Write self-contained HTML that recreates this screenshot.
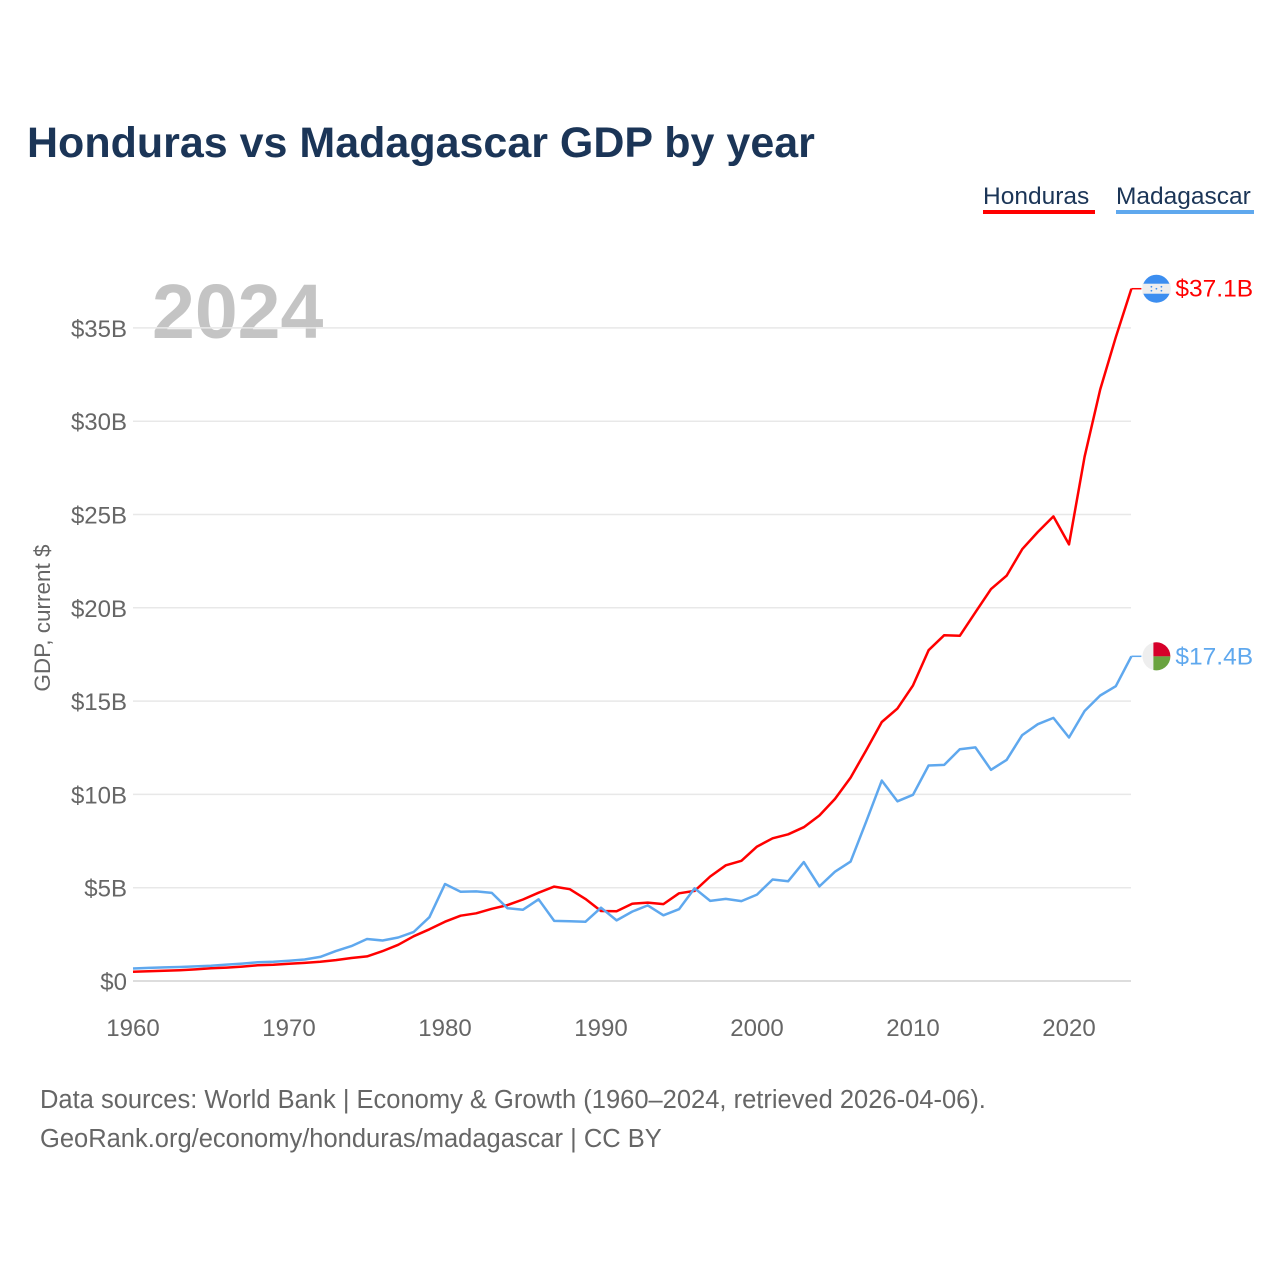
<!DOCTYPE html>
<html><head><meta charset="utf-8"><style>
body{margin:0;background:#fff;font-family:"Liberation Sans",sans-serif}
</style></head><body>
<svg width="1280" height="1280" xmlns="http://www.w3.org/2000/svg" font-family="Liberation Sans, sans-serif">
<rect width="1280" height="1280" fill="#fff"/>
<text x="27" y="157" font-size="43" font-weight="bold" fill="#1b3557">Honduras vs Madagascar GDP by year</text>
<g>
<text x="983" y="204" font-size="24.5" fill="#1b3557">Honduras</text>
<rect x="983" y="210" width="112" height="4" fill="#ff0000"/>
<text x="1116" y="204" font-size="24.5" fill="#1b3557">Madagascar</text>
<rect x="1116" y="210" width="138" height="4" fill="#5fa8ee"/>
</g>
<text x="152" y="338" font-size="77" font-weight="bold" fill="#c4c4c4">2024</text>
<text transform="translate(50,618) rotate(-90)" text-anchor="middle" font-size="22.5" fill="#666">GDP, current $</text>
<g id="grid"></g><g id="lines"></g>
<text x="40" y="1108" font-size="25.5" fill="#666">Data sources: World Bank | Economy &amp; Growth (1960–2024, retrieved 2026-04-06).</text>
<text x="40" y="1147" font-size="25.5" fill="#666">GeoRank.org/economy/honduras/madagascar | CC BY</text>
</svg>
<script>
const yTicks=[0,5,10,15,20,25,30,35];
const yTickLabels=["$0","$5B","$10B","$15B","$20B","$25B","$30B","$35B"];
const xTicks=[1960,1970,1980,1990,2000,2010,2020];
const startYear=1960;
const honduras=[0.5,0.52,0.55,0.58,0.62,0.68,0.72,0.77,0.84,0.87,0.92,0.97,1.03,1.12,1.23,1.32,1.6,1.94,2.4,2.77,3.18,3.5,3.63,3.87,4.07,4.37,4.73,5.06,4.92,4.4,3.75,3.74,4.14,4.2,4.12,4.7,4.83,5.6,6.2,6.44,7.2,7.65,7.86,8.24,8.87,9.76,10.9,12.37,13.88,14.6,15.84,17.73,18.53,18.5,19.76,21.0,21.72,23.14,24.06,24.9,23.4,28.1,31.7,34.5,37.1];
const madagascar=[0.67,0.7,0.73,0.75,0.78,0.82,0.88,0.93,1.0,1.03,1.08,1.15,1.29,1.6,1.87,2.25,2.17,2.33,2.63,3.42,5.2,4.78,4.8,4.72,3.9,3.82,4.38,3.22,3.2,3.17,3.93,3.25,3.72,4.05,3.52,3.85,4.97,4.29,4.4,4.28,4.63,5.44,5.35,6.37,5.07,5.86,6.4,8.54,10.74,9.63,9.98,11.55,11.58,12.42,12.52,11.32,11.85,13.18,13.76,14.1,13.05,14.47,15.3,15.8,17.4];
const NS="http://www.w3.org/2000/svg";
const X=y=>133+(y-1960)*15.6;
const Y=v=>981-v*18.66;
const grid=document.getElementById('grid'),lines=document.getElementById('lines');
function mk(t,a,p){const e=document.createElementNS(NS,t);for(const k in a)e.setAttribute(k,a[k]);p.appendChild(e);return e;}
yTicks.forEach((v,i)=>{
 const l=mk('line',{x1:133,x2:1131,y1:Y(v),y2:Y(v),stroke:v===0?'#ddd':'#e8e8e8','stroke-width':v===0?2:1.5},grid);
 
 
 const t=mk('text',{x:127,y:Y(v)+9,'text-anchor':'end','font-size':24,fill:'#666'},grid);
 t.textContent=yTickLabels[i];
 
 
});
xTicks.forEach(y=>{
 const t=mk('text',{x:X(y),y:1036,'text-anchor':'middle','font-size':24,fill:'#666'},grid);
 t.textContent=y;
 
 
});
function series(d,c,name){
 const pts=d.map((v,i)=>X(startYear+i).toFixed(1)+','+Y(v).toFixed(1)).join(' ');
 const p=mk('polyline',{points:pts,fill:'none',stroke:c,'stroke-width':2.5,'stroke-linejoin':'round'},lines);
 
 
 const lx=X(startYear+d.length-1),ly=Y(d[d.length-1]);
 mk('line',{x1:lx,x2:lx+10,y1:ly,y2:ly,stroke:c,'stroke-width':1.5},lines);
 const t=mk('text',{x:lx+44,y:ly+8,'font-size':24.5,fill:c},lines);
 t.textContent='$'+d[d.length-1].toFixed(1)+'B';
 
 
 return [lx+25,ly];
}
const h=series(honduras,'#ff0000','honduras');
const m=series(madagascar,'#5fa8ee','madagascar');
const fh=document.createElementNS(NS,'g');


lines.appendChild(fh);
const cx=h[0],cy=h[1],hw=Math.sqrt(196-25);
mk('circle',{cx:cx,cy:cy,r:14,fill:'#3c8ef0'},fh);
mk('rect',{x:cx-14,y:cy-5,width:28,height:10,fill:'#eee'},fh);
[[-5,-2],[5,-2],[0,0],[-5,2],[5,2]].forEach(s=>mk('circle',{cx:cx+s[0],cy:cy+s[1],r:0.9,fill:'#3c8ef0'},fh));
const fm=document.createElementNS(NS,'g');


lines.appendChild(fm);
const mx=m[0],my=m[1],vx=Math.sqrt(196-9);
mk('circle',{cx:mx,cy:my,r:14,fill:'#eee'},fm);
mk('path',{d:`M${mx-3},${my} V${my-vx} A14 14 0 0 1 ${mx+14},${my} Z`,fill:'#d6002a'},fm);
mk('path',{d:`M${mx-3},${my} V${my+vx} A14 14 0 0 0 ${mx+14},${my} Z`,fill:'#6aa33f'},fm);
</script>
</body></html>
